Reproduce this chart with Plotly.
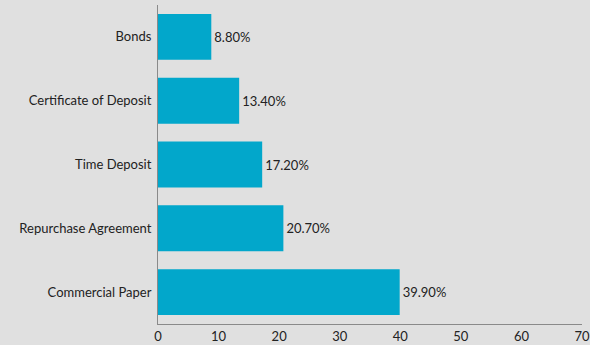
import plotly.graph_objects as go

categories = ["Commercial Paper", "Repurchase Agreement", "Time Deposit",
              "Certificate of Deposit", "Bonds"]
values = [39.9, 20.7, 17.2, 13.4, 8.8]
x_ticks = [0, 10, 20, 30, 40, 50, 60, 70]

BG = "#e0e0e0"
BAR = "#02a7cb"
FONT = "Lato, 'Open Sans', sans-serif"

fig = go.Figure(go.Bar(
    x=values, y=categories, orientation="h",
    marker=dict(color=BAR, line=dict(width=0)),
    text=[f"{v:.2f}%" for v in values],
    textposition="outside",
    textfont=dict(family=FONT, size=13, color="#222"),
    cliponaxis=False,
    width=0.72,
))

fig.update_layout(
    width=590, height=345,
    margin=dict(l=158, r=8, t=5, b=21),
    paper_bgcolor=BG, plot_bgcolor=BG,
    font=dict(family=FONT, size=13, color="#222"),
    showlegend=False,
    bargap=0.28,
)
fig.update_xaxes(
    range=[0, 70], tickvals=x_ticks, showgrid=False, zeroline=False,
    showline=True, linecolor="#8a8a8a", linewidth=1,
    ticks="", tickfont=dict(size=13, color="#222"),
    automargin=False, ticklabeloverflow="allow",
)
fig.update_yaxes(
    range=[-0.5, 4.5], showgrid=False, zeroline=False,
    showline=True, linecolor="#8a8a8a", linewidth=1,
    ticks="outside", ticklen=3, tickcolor=BG,
    tickfont=dict(size=13, color="#222"),
    automargin=False,
)

fig.write_html("out.html")
